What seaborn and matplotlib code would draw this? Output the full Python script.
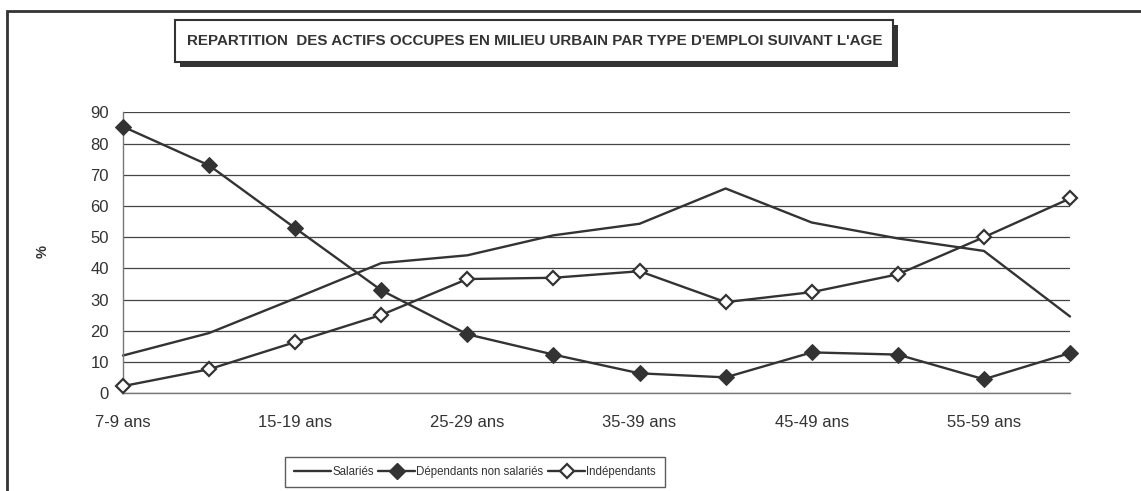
import pandas as pd
import numpy as np
import matplotlib.pyplot as plt
import seaborn as sns
from matplotlib.patches import Rectangle
from matplotlib.lines import Line2D

# données
ages = ['7-9 ans', '10-14 ans', '15-19 ans', '20-24 ans', '25-29 ans', '30-34 ans',
        '35-39 ans', '40-44 ans', '45-49 ans', '50-54 ans', '55-59 ans', '60 ans et +']
salaries = [12.1, 19.3, 30.4, 41.7, 44.2, 50.6, 54.3, 65.6, 54.7, 49.6, 45.6, 24.6]
dependants = [85.4, 73.0, 52.9, 33.0, 18.9, 12.4, 6.4, 5.1, 13.1, 12.4, 4.5, 12.9]
independants = [2.3, 7.7, 16.4, 25.1, 36.6, 37.0, 39.1, 29.2, 32.4, 38.1, 50.0, 62.4]
tick_labels = ['7-9 ans', '', '15-19 ans', '', '25-29 ans', '', '35-39 ans', '',
               '45-49 ans', '', '55-59 ans', '']
titre = "REPARTITION  DES ACTIFS OCCUPES EN MILIEU URBAIN PAR TYPE D'EMPLOI SUIVANT L'AGE"

sns.set_style('white')
plt.rcParams['font.family'] = ['Liberation Sans', 'DejaVu Sans']
txt = '#333333'
col = '#333333'

dados = pd.DataFrame({'pos': np.arange(len(ages)), 'age': ages,
                      'Salariés': salaries,
                      'Dépendants non salariés': dependants,
                      'Indépendants': independants})

fig = plt.figure(figsize=(11.41, 4.91), dpi=100)
ax = fig.add_axes([123 / 1141, 1 - 393.3 / 491, (1070 - 123) / 1141, (393.3 - 112.3) / 491])

sns.lineplot(data=dados, x='pos', y='Salariés', ax=ax, color=col, lw=1.7, clip_on=False)
sns.lineplot(data=dados, x='pos', y='Dépendants non salariés', ax=ax, color=col, lw=1.7,
             marker='D', markersize=8, markerfacecolor=col, markeredgecolor=col,
             clip_on=False, zorder=4)
sns.lineplot(data=dados, x='pos', y='Indépendants', ax=ax, color=col, lw=1.7,
             marker='D', markersize=7.5, markerfacecolor='white', markeredgecolor=col,
             markeredgewidth=1.6, clip_on=False, zorder=4)

ax.set_xlim(0, len(ages) - 1)
ax.set_ylim(0, 90)
ax.set_yticks(range(0, 91, 10))
ax.set_xticks(dados['pos'])
ax.set_xticklabels(tick_labels)
ax.set_xlabel('')
ax.set_ylabel('')
ax.yaxis.grid(True, color='#444444', lw=0.9)
ax.set_axisbelow(True)
for s in ['top', 'right']:
    ax.spines[s].set_visible(False)
for s in ['left', 'bottom']:
    ax.spines[s].set_color('#777777')
    ax.spines[s].set_linewidth(1)
ax.tick_params(axis='x', direction='inout', length=9, width=0.8, color='#777777',
               labelsize=12, labelcolor=txt, pad=11)
ax.tick_params(axis='y', direction='out', length=4, width=0.8, color='#777777',
               labelsize=12, labelcolor=txt, pad=6)

fig.text(43 / 1141, 1 - 252 / 491, '%', rotation=90, ha='center', va='center',
         fontsize=10.5, fontweight='bold', color=txt)

# cadre extérieur
fig.patches.append(Rectangle((7 / 1141, -0.2), 1.2, 1.2 - 11 / 491, transform=fig.transFigure,
                             fill=False, edgecolor='#333333', lw=2, clip_on=False))

# encadré du titre avec ombre
x0, x1, y0, y1 = 175 / 1141, 893 / 1141, 1 - 62 / 491, 1 - 20 / 491
fig.patches.append(Rectangle((x0 + 5 / 1141, y0 - 5 / 491), x1 - x0, y1 - y0,
                             transform=fig.transFigure, facecolor='#333333', edgecolor='none'))
fig.patches.append(Rectangle((x0, y0), x1 - x0, y1 - y0, transform=fig.transFigure,
                             facecolor='white', edgecolor='#333333', lw=1.5))
fig.text((x0 + x1) / 2 + 0.5 / 1141, 1 - 41 / 491, titre, ha='center', va='center',
         fontsize=10.9, fontweight='bold', color=txt)

handles = [Line2D([], [], color=col, lw=1.7),
           Line2D([], [], color=col, lw=1.7, marker='D', markersize=8,
                  markerfacecolor=col, markeredgecolor=col),
           Line2D([], [], color=col, lw=1.7, marker='D', markersize=7.5,
                  markerfacecolor='white', markeredgecolor=col, markeredgewidth=1.6)]
leg = fig.legend(handles, ['Salariés', 'Dépendants non salariés', 'Indépendants'],
                 loc='center', bbox_to_anchor=(475 / 1141, 1 - 472 / 491), ncol=3,
                 frameon=True, fancybox=False, fontsize=8.3, handlelength=3.2,
                 handletextpad=0.1, columnspacing=0.4, borderpad=0.8,
                 borderaxespad=0, labelcolor=txt)
leg.get_frame().set_edgecolor('#333333')
leg.get_frame().set_linewidth(1)

fig.savefig('out.png', dpi=100)
